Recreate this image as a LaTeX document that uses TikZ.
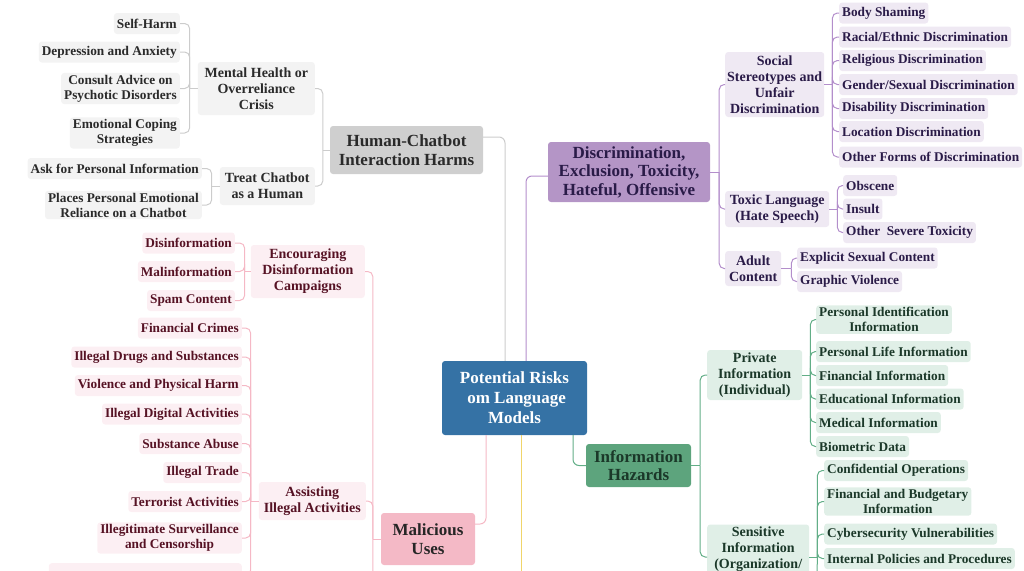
\documentclass[tikz,border=0pt]{standalone}
\usepackage{fontspec}
\setmainfont{Liberation Serif}
\definecolor{rootblue}{HTML}{3572A5}
\definecolor{gmainfill}{HTML}{CFCFCF}
\definecolor{gleaffill}{HTML}{F3F3F3}
\definecolor{gtext}{HTML}{2A2A2A}
\definecolor{gedgecol}{HTML}{CCCCCC}
\definecolor{pmainfill}{HTML}{B495C6}
\definecolor{pleaffill}{HTML}{EFE9F3}
\definecolor{ptext}{HTML}{2A1B48}
\definecolor{pedgecol}{HTML}{B38ECB}
\definecolor{kmainfill}{HTML}{F4B9C6}
\definecolor{kleaffill}{HTML}{FCEFF3}
\definecolor{ktext}{HTML}{561224}
\definecolor{kedgecol}{HTML}{F5B8C5}
\definecolor{emainfill}{HTML}{5DA47D}
\definecolor{eleaffill}{HTML}{E0EFE7}
\definecolor{etext}{HTML}{1B3829}
\definecolor{eedgecol}{HTML}{62AE87}
\definecolor{yedgecol}{HTML}{F0D56A}
\begin{document}
\begin{tikzpicture}[
  x=1pt, y=-1pt,
  every node/.style={align=center, rounded corners=3pt},
  root/.style={fill=rootblue, text=white, font=\fontsize{17}{20}\selectfont\bfseries,
    minimum width=145pt, minimum height=74pt},
  main/.style={font=\fontsize{17}{18.5}\selectfont\bfseries, inner sep=3pt},
  mid/.style={font=\fontsize{14}{16}\selectfont\bfseries, inner sep=2pt},
  leaf/.style={font=\fontsize{13.3}{15}\selectfont\bfseries, inner xsep=3pt, inner ysep=2pt,
    minimum height=21pt},
  gmain/.style={main, fill=gmainfill, text=gtext},
  gbox/.style={fill=gleaffill, text=gtext},
  pmain/.style={main, fill=pmainfill, text=ptext},
  pbox/.style={fill=pleaffill, text=ptext},
  kmain/.style={main, fill=kmainfill, text=black!85},
  kbox/.style={fill=kleaffill, text=ktext},
  emain/.style={main, fill=emainfill, text=etext},
  ebox/.style={fill=eleaffill, text=etext},
  gedge/.style={draw=gedgecol, line width=1pt, rounded corners=5pt},
  pedge/.style={draw=pedgecol, line width=1pt, rounded corners=5pt},
  kedge/.style={draw=kedgecol, line width=1pt, rounded corners=5pt},
  eedge/.style={draw=eedgecol, line width=1pt, rounded corners=5pt},
  yedge/.style={draw=yedgecol, line width=1pt}
]
\useasboundingbox (0,0) rectangle (1024,570);

\node[root] (root) at (514.5,398) {Potential Risks\\ \ om Language\\Models};

% human-chatbot branch
\node[gmain, minimum width=153pt, minimum height=48pt] (hc) at (406.5,150) {Human-Chatbot\\Interaction Harms};
\node[mid, gbox, anchor=east, minimum width=117pt, minimum height=53pt] (mh) at (315,88.5) {Mental Health or\\Overreliance\\Crisis};
\node[mid, gbox, anchor=east, minimum width=95pt, minimum height=38pt] (tc) at (315,186) {Treat Chatbot\\as a Human};
\node[leaf, gbox, anchor=east] (sh) at (180,23.5) {Self-Harm};
\node[leaf, gbox, anchor=east] (da) at (180,52) {Depression and Anxiety};
\node[leaf, gbox, anchor=east] (ca) at (180,88.5) {Consult Advice on\\Psychotic Disorders};
\node[leaf, gbox, anchor=east] (ec) at (180,133) {Emotional Coping\\Strategies};
\node[leaf, gbox, anchor=east] (ap) at (202,168.5) {Ask for Personal Information};
\node[leaf, gbox, anchor=east] (pe) at (202,205) {Places Personal Emotional\\Reliance on a Chatbot};

% malicious uses branch
\node[kmain, minimum width=94pt, minimum height=52pt] (mu) at (428,539) {Malicious\\Uses};
\node[mid, kbox, anchor=east, minimum width=114pt, minimum height=53pt] (enc) at (365,271.5) {Encouraging\\Disinformation\\Campaigns};
\node[mid, kbox, anchor=east, minimum width=107pt, minimum height=38pt] (ai) at (366,501) {Assisting\\Illegal Activities};
\node[leaf, kbox, anchor=east] (di) at (235,243) {Disinformation};
\node[leaf, kbox, anchor=east] (ma) at (235,271.5) {Malinformation};
\node[leaf, kbox, anchor=east] (sc) at (235,300.5) {Spam Content};
\node[leaf, kbox, anchor=east] (fc) at (242,328) {Financial Crimes};
\node[leaf, kbox, anchor=east] (ids) at (242,357) {Illegal Drugs and Substances};
\node[leaf, kbox, anchor=east] (vp) at (242,385.5) {Violence and Physical Harm};
\node[leaf, kbox, anchor=east] (ida) at (242,414) {Illegal Digital Activities};
\node[leaf, kbox, anchor=east] (sa) at (242,443.5) {Substance Abuse};
\node[leaf, kbox, anchor=east] (it) at (242,472.5) {Illegal Trade};
\node[leaf, kbox, anchor=east] (ta) at (242,501.5) {Terrorist Activities};
\node[leaf, kbox, anchor=east] (isc) at (242,538) {Illegitimate Surveillance\\and Censorship};
\node[leaf, kbox, anchor=north east, minimum width=193pt, minimum height=24pt] (ilx) at (242,563) {};

% discrimination branch
\node[pmain, minimum width=162pt, minimum height=60pt] (disc) at (629,172) {Discrimination,\\Exclusion, Toxicity,\\Hateful, Offensive};
\node[mid, pbox, anchor=west, minimum width=99pt, minimum height=65pt] (soc) at (725,84.5) {Social\\Stereotypes and\\Unfair\\Discrimination};
\node[mid, pbox, anchor=west, minimum width=104pt, minimum height=36pt] (tox) at (725,209) {Toxic Language\\(Hate Speech)};
\node[mid, pbox, anchor=west, minimum width=56pt, minimum height=35pt] (adu) at (725,268.5) {Adult\\Content};
\node[leaf, pbox, anchor=west] (bs) at (839,13) {Body Shaming};
\node[leaf, pbox, anchor=west] (re) at (839,37) {Racial/Ethnic Discrimination};
\node[leaf, pbox, anchor=west] (rd) at (839,60.5) {Religious Discrimination};
\node[leaf, pbox, anchor=west] (gs) at (839,84.5) {Gender/Sexual Discrimination};
\node[leaf, pbox, anchor=west] (dd) at (839,108.5) {Disability Discrimination};
\node[leaf, pbox, anchor=west] (ld) at (839,131.5) {Location Discrimination};
\node[leaf, pbox, anchor=west] (of) at (839,157) {Other Forms of Discrimination};
\node[leaf, pbox, anchor=west] (ob) at (843,185.5) {Obscene};
\node[leaf, pbox, anchor=west] (ins) at (843,209) {Insult};
\node[leaf, pbox, anchor=west] (ost) at (843,232.5) {Other\ \ Severe Toxicity};
\node[leaf, pbox, anchor=west] (es) at (797,258) {Explicit Sexual Content};
\node[leaf, pbox, anchor=west] (gv) at (797,281.5) {Graphic Violence};

% information hazards branch
\node[emain, minimum width=105pt, minimum height=43pt] (ih) at (638.5,465.5) {Information\\Hazards};
\node[mid, ebox, anchor=west, minimum width=95pt, minimum height=50pt] (pri) at (707,375) {Private\\Information\\(Individual)};
\node[mid, ebox, anchor=west, minimum width=102pt, minimum height=65pt] (sen) at (707,557) {Sensitive\\Information\\(Organization/\\Government)};
\node[leaf, ebox, anchor=west] (pii) at (816,319.5) {Personal Identification\\Information};
\node[leaf, ebox, anchor=west] (pli) at (816,351.5) {Personal Life Information};
\node[leaf, ebox, anchor=west] (fin) at (816,375.5) {Financial Information};
\node[leaf, ebox, anchor=west] (edu) at (816,399) {Educational Information};
\node[leaf, ebox, anchor=west] (med) at (816,422.5) {Medical Information};
\node[leaf, ebox, anchor=west] (bio) at (816,446.5) {Biometric Data};
\node[leaf, ebox, anchor=west] (co) at (824,470.5) {Confidential Operations};
\node[leaf, ebox, anchor=west] (fb) at (824,501.5) {Financial and Budgetary\\Information};
\node[leaf, ebox, anchor=west] (cv) at (824,534) {Cybersecurity Vulnerabilities};
\node[leaf, ebox, anchor=west] (ipp) at (824,558.5) {Internal Policies and Procedures};

% hubs
\coordinate (mhj) at ([xshift=-8pt]mh.west);
\coordinate (tcj) at ([xshift=-8pt]tc.west);
\coordinate (hcj) at ([xshift=-7pt]hc.west);
\coordinate (muj) at ([xshift=-8pt]mu.west);
\coordinate (mub) at (373,575);
\coordinate (encj) at ([xshift=-6pt]enc.west);
\coordinate (aij) at ([xshift=-8pt]ai.west);
\coordinate (discj) at ([xshift=9pt]disc.east);
\coordinate (socj) at ([xshift=8pt]soc.east);
\coordinate (toxj) at ([xshift=8pt]tox.east);
\coordinate (aduj) at ([xshift=10pt]adu.east);
\coordinate (ihj) at ([xshift=9pt]ih.east);
\coordinate (prij) at ([xshift=8pt]pri.east);
\coordinate (senj) at ([xshift=8pt]sen.east);
\coordinate (senb) at (817,575);
\coordinate (yb) at (521,575);

% root edges
\draw[gedge, rounded corners=6pt] ([xshift=-9.5pt]root.north) |- ([yshift=13pt]hc.east);
\draw[pedge, rounded corners=6pt] ([xshift=11.5pt]root.north) |- ([yshift=-4pt]disc.west);
\draw[eedge, rounded corners=6pt] ([xshift=58.5pt]root.south) |- (ih.west);
\draw[kedge, rounded corners=6pt] ([xshift=-28.5pt]root.south) |- ([yshift=15pt]mu.east);
\draw[yedge] ([xshift=6.5pt]root.south) -- (yb);

% gray edges
\draw[gedge] (hc.west) -- (hcj);
\foreach \n in {mh,tc} \draw[gedge] (hcj) |- (\n.east);
\draw[gedge] (mh.west) -- (mhj);
\foreach \n in {sh,da,ca,ec} \draw[gedge] (mhj) |- (\n.east);
\draw[gedge] (tc.west) -- (tcj);
\foreach \n in {ap,pe} \draw[gedge] (tcj) |- (\n.east);

% pink edges
\draw[kedge] (mu.west) -- (muj);
\draw[kedge] (muj) -- (mub);
\foreach \n in {enc,ai} \draw[kedge] (muj) |- (\n.east);
\draw[kedge] (enc.west) -- (encj);
\foreach \n in {di,ma,sc} \draw[kedge] (encj) |- (\n.east);
\draw[kedge] (ai.west) -- (aij);
\foreach \n in {fc,ids,vp,ida,sa,it,ta,isc,ilx} \draw[kedge] (aij) |- (\n.east);

% purple edges
\draw[pedge] (disc.east) -- (discj);
\foreach \n in {soc,tox,adu} \draw[pedge] (discj) |- (\n.west);
\draw[pedge] (soc.east) -- (socj);
\foreach \n in {bs,re,rd,gs,dd,ld,of} \draw[pedge] (socj) |- (\n.west);
\draw[pedge] (tox.east) -- (toxj);
\foreach \n in {ob,ins,ost} \draw[pedge] (toxj) |- (\n.west);
\draw[pedge] (adu.east) -- (aduj);
\foreach \n in {es,gv} \draw[pedge] (aduj) |- (\n.west);

% green edges
\draw[eedge] (ih.east) -- (ihj);
\foreach \n in {pri,sen} \draw[eedge] (ihj) |- (\n.west);
\draw[eedge] (pri.east) -- (prij);
\foreach \n in {pii,pli,fin,edu,med,bio} \draw[eedge] (prij) |- (\n.west);
\draw[eedge] (sen.east) -- (senj);
\draw[eedge] (senj) -- (senb);
\foreach \n in {co,fb,cv,ipp} \draw[eedge] (senj) |- (\n.west);
\end{tikzpicture}
\end{document}
